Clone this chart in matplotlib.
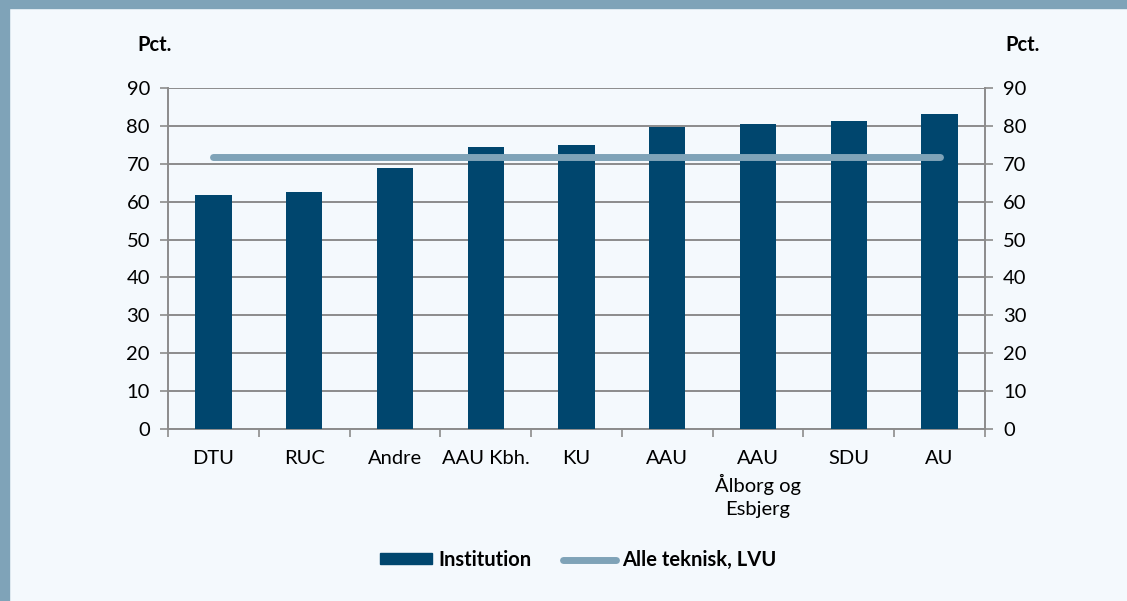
import matplotlib.pyplot as plt
from matplotlib.patches import Rectangle
from matplotlib.lines import Line2D

plt.rcParams['font.family'] = ['Lato', 'DejaVu Sans']

# Data
institutions = ['DTU', 'RUC', 'Andre', 'AAU Kbh.', 'KU', 'AAU',
                'AAU\nÅlborg og\nEsbjerg', 'SDU', 'AU']
values = [61.8, 62.6, 68.9, 74.3, 75.0, 79.8, 80.5, 81.3, 83.1]
alle_teknisk = 71.7

bg = '#f4f9fd'
bar_color = '#00466e'
line_color = '#7fa3b8'
grid_color = '#8c8c8c'

fig = plt.figure(figsize=(11.27, 6.01), dpi=100, facecolor=bg)

# frame: top strip and left border
fig.patches.append(Rectangle((0, 1 - 8 / 601), 1, 8 / 601, transform=fig.transFigure,
                             color=line_color, zorder=0))
fig.patches.append(Rectangle((0, 0), 9 / 1127, 1, transform=fig.transFigure,
                             color=line_color, zorder=0))

ax = fig.add_axes([168 / 1127, 1 - 429 / 601, (985 - 168) / 1127, (429 - 88) / 601])
ax.set_facecolor(bg)

x = list(range(len(institutions)))
ax.bar(x, values, width=0.4, color=bar_color, zorder=3)
ax.plot([x[0], x[-1]], [alle_teknisk, alle_teknisk], color=line_color, lw=5,
        solid_capstyle='round', zorder=4)

ax.set_xlim(-0.5, len(institutions) - 0.5)
ax.set_ylim(0, 90)
ax.set_yticks(range(0, 91, 10))
ax.yaxis.grid(True, color=grid_color, lw=1.4, zorder=0)
ax.set_axisbelow(True)

ax.spines['top'].set_visible(False)
for s in ['left', 'right', 'bottom']:
    ax.spines[s].set_color(grid_color)
    ax.spines[s].set_linewidth(1.4)

ax.tick_params(axis='y', which='both', direction='out', length=6, width=1.2,
               color=grid_color, labelsize=14.5, left=True, right=True,
               labelleft=True, labelright=True, pad=7)
ax.set_xticks(x)
ax.set_xticklabels(institutions, fontsize=14.5, linespacing=1.4)
ax.set_xticks([i - 0.5 for i in range(len(institutions) + 1)], minor=True)
ax.tick_params(axis='x', which='major', length=0, pad=15)
ax.tick_params(axis='x', which='minor', length=6, width=1.2, color=grid_color,
               direction='out')

fig.text(155 / 1127, 1 - 45 / 601, 'Pct.', fontsize=14.5, fontweight='bold',
         ha='center', va='center')
fig.text(1023 / 1127, 1 - 45 / 601, 'Pct.', fontsize=14.5, fontweight='bold',
         ha='center', va='center')

handles = [Rectangle((0, 0), 1, 1, color=bar_color),
           Line2D([0], [0], color=line_color, lw=5, solid_capstyle='round')]
fig.legend(handles, ['Institution', 'Alle teknisk, LVU'], loc='center',
           bbox_to_anchor=(578 / 1127, 1 - 560 / 601), ncol=2, frameon=False,
           prop={'weight': 'bold', 'size': 14.5}, handlelength=2.6,
           handleheight=0.45, handletextpad=0.3, columnspacing=1.6)

fig.savefig('out.png', dpi=100, facecolor=bg)
